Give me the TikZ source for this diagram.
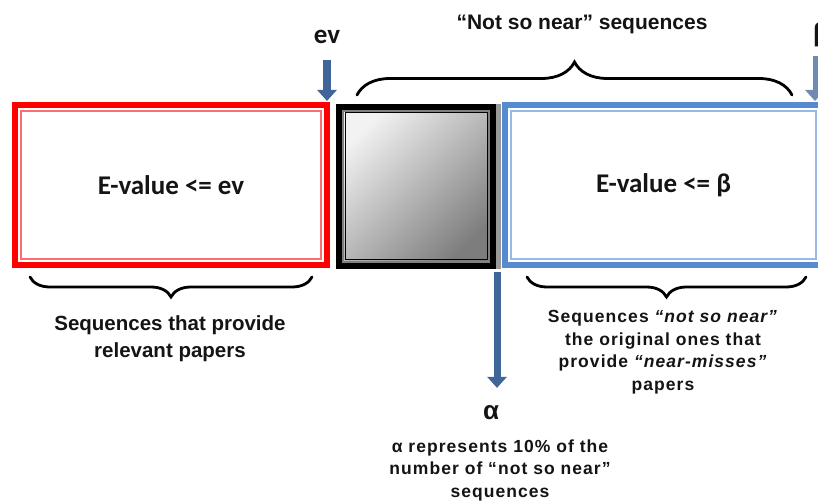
\documentclass[tikz,border=0pt]{standalone}
\usepackage{fontspec}
\setmainfont{Liberation Sans}
\newfontfamily\calfont{Carlito}
\newfontfamily\spacedfont[LetterSpace=6]{Liberation Sans}
\usetikzlibrary{arrows.meta,decorations.pathreplacing}
\definecolor{arrowblue}{RGB}{64,101,152}
\definecolor{framered}{RGB}{255,0,0}
\definecolor{framered2}{RGB}{255,110,110}
\definecolor{frameblue}{RGB}{86,139,210}
\definecolor{frameblue2}{RGB}{150,186,230}
\definecolor{shadelight}{RGB}{242,242,242}
\definecolor{shadedark}{RGB}{125,125,125}
\definecolor{ink}{RGB}{20,20,20}
\begin{document}
\begin{tikzpicture}[x=1pt,y=-1pt,
  every node/.style={inner sep=0pt,outer sep=0pt,text=ink},
  frame/.style={draw=#1,line width=6.5pt,fill=white},
  blockarrow/.style={draw=arrowblue,line width=8pt,-{Triangle[width=19pt,length=11pt]}},
  bracepath/.style={decorate,decoration={brace,amplitude=#1},line width=2.8pt,draw=black,line cap=round},
  boxlabel/.style={font=\calfont\bfseries\fontsize{27}{30}\selectfont},
  caption/.style={align=center,font=\bfseries\fontsize{20.5}{27}\selectfont},
  smallcap/.style={align=center,font=\spacedfont\bfseries\fontsize{17.5}{22.5}\selectfont}]
\useasboundingbox (0,0) rectangle (818,502);
\fill[white] (0,0) rectangle (818,502);

% left region: relevant hits
\node[frame=framered,minimum width=312pt,minimum height=160pt,boxlabel] (relevant) at (171,185) {E-value <= ev};
\draw[framered2,line width=1.2pt] ([shift={(6,6)}]relevant.north west) rectangle ([shift={(-6,-6)}]relevant.south east);

% middle region: shaded band
\node[draw=black,line width=6pt,minimum width=154pt,minimum height=159pt,
      top color=shadelight,bottom color=shadedark,shading angle=45] (middle) at (416,186.5) {};
\draw[gray,line width=2pt] ([shift={(4,4)}]middle.north west) rectangle ([shift={(-4,-4)}]middle.south east);
\draw[black,line width=1pt] ([shift={(6,6)}]middle.north west) rectangle ([shift={(-6,-6)}]middle.south east);
\fill[gray!80] (496,104) rectangle (501,269);

% right region: near-misses
\node[frame=frameblue,minimum width=317pt,minimum height=160pt,boxlabel] (nearmiss) at (663.5,185) {E-value <= β};
\draw[frameblue2,line width=1.2pt] ([shift={(6,6)}]nearmiss.north west) rectangle ([shift={(-6,-6)}]nearmiss.south east);

% threshold markers
\node[font=\calfont\bfseries\fontsize{27}{30}\selectfont] (evlab) at (327,37) {ev};
\draw[blockarrow,shorten <=16pt,shorten >=4pt] (evlab.south) -- (evlab.south |- relevant.north);

\node[font=\bfseries\fontsize{26}{30}\selectfont] (blab) at (821,35) {β};
\coordinate (bstart) at (815,56);
\draw[blockarrow,line width=5pt,draw=arrowblue!75,shorten >=4pt] (bstart) -- (bstart |- nearmiss.north);

\node[font=\bfseries\fontsize{26}{30}\selectfont] (alab) at (491,413) {α};
\coordinate (astart) at (497,272);
\draw[blockarrow,line width=7pt,shorten >=18pt] (astart) -- (astart |- alab.north);

% braces and their captions
\node[font=\bfseries\fontsize{21}{25}\selectfont] (nsn) at (582,24) {“Not so near” sequences};
\coordinate (tb1) at (357,95);
\coordinate (tb2) at (792,95);
\draw[bracepath=33pt] (tb1) -- (tb2);

\coordinate (lb1) at (30,277);
\coordinate (lb2) at (312,277);
\draw[bracepath=20pt] (lb2) -- (lb1);

\coordinate (rb1) at (527,277);
\coordinate (rb2) at (806,277);
\draw[bracepath=20pt] (rb2) -- (rb1);

\node[caption] (leftcap) at (170,338.5) {Sequences that provide\\relevant papers};
\node[smallcap] (rightcap) at (663,352) {Sequences \textit{“not so near”}\\the original ones that\\provide \textit{“near-misses”}\\papers};
\node[smallcap] (alphacap) at (500,470) {α represents 10\% of the\\number of “not so near”\\sequences};
\end{tikzpicture}
\end{document}
